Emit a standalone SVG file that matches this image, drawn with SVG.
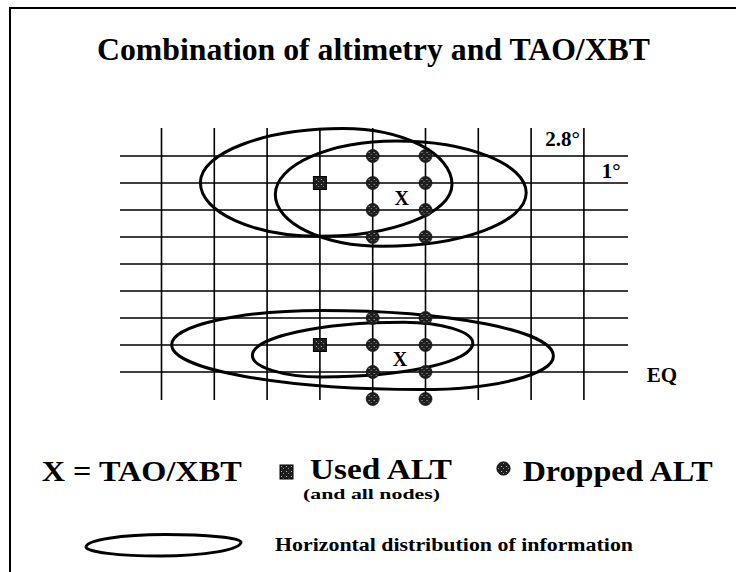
<svg xmlns="http://www.w3.org/2000/svg" width="736" height="572" viewBox="0 0 736 572">
<style>
.t{font-family:"Liberation Serif","Times New Roman",serif;font-weight:bold;fill:#000}
.g{stroke:#000;stroke-width:1.6;fill:none}
.e{stroke:#000;stroke-width:3;fill:none}
.alt{fill:url(#spk);stroke:#000;stroke-width:1}
.drop{fill:url(#spk);stroke:#111;stroke-width:0.8}
</style>
<defs>
<pattern id="spk" width="5" height="5" patternUnits="userSpaceOnUse">
<rect width="5" height="5" fill="#1e1e1e"/>
<rect x="1" y="1" width="1" height="1" fill="#bdbdbd"/>
<rect x="3" y="3" width="1" height="1" fill="#8a8a8a"/>
</pattern>
<circle id="dc" r="6.5" class="drop"/>
<rect id="sq" x="-6.5" y="-6.5" width="13" height="13" class="alt"/>
</defs>
<rect width="736" height="572" fill="#fff"/>
<g id="frame" stroke="#000" stroke-width="2" fill="none">
<path d="M10,572 V8 H736"/>
</g>
<text class="t" x="97" y="60" font-size="31.5" textLength="553" lengthAdjust="spacingAndGlyphs">Combination of altimetry and TAO/XBT</text>
<g id="grid" class="g">
<path d="M161.5,128 V400 M214.3,128 V400 M267.1,128 V400 M319.9,128 V400 M372.7,128 V400 M425.5,128 V400 M478.3,128 V400 M531.1,128 V400 M583.9,128 V400"/>
<path d="M120,156 H628 M120,183 H628 M120,210 H628 M120,237 H628 M120,264 H628 M120,291 H628 M120,318 H628 M120,345 H628 M120,372 H628"/>
</g>
<text class="t" x="580" y="146" font-size="21" text-anchor="end">2.8°</text>
<text class="t" x="601.7" y="178" font-size="21">1°</text>
<text class="t" x="646.7" y="382" font-size="21">EQ</text>
<g id="connectors">
<path id="ellA" class="e" d="M200.4,182.8 C200.4,152.9 264.1,128.6 342.7,128.6 C403.1,128.6 452,153.6 452,184.4 C452,213.1 392.6,236.3 319.4,236.3 C253.7,236.3 200.4,212.3 200.4,182.8 Z"/>
<path id="ellB" class="e" d="M275.3,194.5 C275.3,165 329.6,141 396.5,141 C468.1,141 526.2,164.2 526.2,192.8 C526.2,222.3 461.7,246.3 382.1,246.3 C323.1,246.3 275.3,223.1 275.3,194.5 Z"/>
<path id="ellC" class="e" d="M171.7,344.7 C171.7,325.8 238.6,310.5 321.2,310.5 C449.4,310.5 553.4,330.9 553.4,356 C553.4,374.6 494.3,389.6 421.5,389.6 C283.5,389.6 171.7,369.5 171.7,344.7 Z"/>
<path id="ellD" class="e" d="M252.4,355.4 C252.4,337.1 320.1,322.2 403.6,322.2 C441.8,322.2 472.8,331.6 472.8,343.1 C472.8,361.8 404.9,377 321.2,377 C283.2,377 252.4,367.3 252.4,355.4 Z"/>
</g>
<g id="top-nodes">
<g id="top-used"><use href="#sq" x="319.9" y="183"/></g>
<g id="top-dropped">
<use href="#dc" x="372.7" y="156"/><use href="#dc" x="372.7" y="183"/><use href="#dc" x="372.7" y="210"/><use href="#dc" x="372.7" y="237"/>
<use href="#dc" x="425.5" y="156"/><use href="#dc" x="425.5" y="183"/><use href="#dc" x="425.5" y="210"/><use href="#dc" x="425.5" y="237"/>
</g>
<g id="top-tao"><text class="t" x="401.7" y="205" font-size="20" text-anchor="middle">X</text></g>
</g>
<g id="bottom-nodes">
<g id="bot-used"><use href="#sq" x="319.9" y="345"/></g>
<g id="bot-dropped">
<use href="#dc" x="372.7" y="318"/><use href="#dc" x="372.7" y="345"/><use href="#dc" x="372.7" y="372"/><use href="#dc" x="372.7" y="399"/>
<use href="#dc" x="425.5" y="318"/><use href="#dc" x="425.5" y="345"/><use href="#dc" x="425.5" y="372"/><use href="#dc" x="425.5" y="399"/>
</g>
<g id="bot-tao"><text class="t" x="400" y="366" font-size="20" text-anchor="middle">X</text></g>
</g>
<g id="legend">
<text class="t" x="41.7" y="481" font-size="29" textLength="200" lengthAdjust="spacingAndGlyphs">X = TAO/XBT</text>
<rect x="280" y="465" width="13" height="14" class="alt"/>
<text class="t" x="310" y="479" font-size="29" textLength="142" lengthAdjust="spacingAndGlyphs">Used ALT</text>
<text class="t" x="303" y="499" font-size="14.5" textLength="137" lengthAdjust="spacingAndGlyphs">(and all nodes)</text>
<circle cx="503.5" cy="468.5" r="6.7" class="drop"/>
<text class="t" x="522.7" y="481" font-size="29" textLength="190" lengthAdjust="spacingAndGlyphs">Dropped ALT</text>
<path class="e" d="M86,547 C86,540.1 121.4,534.5 165,534.5 C207,534.5 241,537.9 241,542 C241,549.7 204.7,556 160,556 C119.1,556 86,552 86,547 Z"/>
<text class="t" x="275" y="551" font-size="18" textLength="358" lengthAdjust="spacingAndGlyphs">Horizontal distribution of information</text>
</g>
</svg>
